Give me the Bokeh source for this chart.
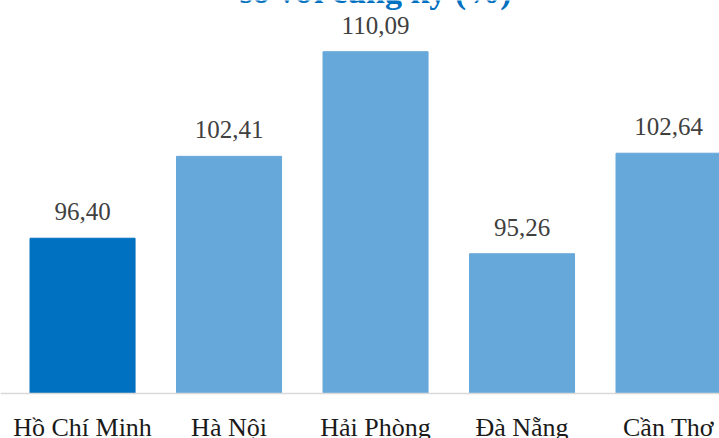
from bokeh.plotting import figure
from bokeh.models import ColumnDataSource, Range1d, LabelSet, Label, Span
from bokeh.embed import file_html
from bokeh.resources import INLINE

# ---- data ----
cities = ["Hồ Chí Minh", "Hà Nội", "Hải Phòng", "Đà Nẵng", "Cần Thơ"]
values = [96.40, 102.41, 110.09, 95.26, 102.64]
value_labels = ["96,40", "102,41", "110,09", "95,26", "102,64"]
bar_colors = ["#0070C0", "#66A8DA", "#66A8DA", "#66A8DA", "#66A8DA"]
title_text = "so với cùng kỳ (%)"
y_base = 85

xs = list(range(len(cities)))
src = ColumnDataSource(dict(x=xs, top=values, lab=value_labels, color=bar_colors,
                            city=cities, base=[y_base] * len(cities)))

p = figure(width=719, height=438, output_backend="svg", toolbar_location=None,
           x_range=Range1d(-0.56, 4.348), y_range=Range1d(81.697, 113.85),
           x_axis_location=None, y_axis_location=None,
           min_border_left=0, min_border_right=0, min_border_top=0, min_border_bottom=0)
p.outline_line_color = None
p.background_fill_color = "white"
p.border_fill_color = "white"
p.grid.visible = False

p.vbar(x="x", top="top", bottom=y_base, width=0.717, color="color", source=src)

# category axis line
p.add_layout(Span(location=y_base, dimension="width", line_color="#D9D9D9", line_width=1.5))

labels = LabelSet(x="x", y="top", text="lab", source=src, y_offset=18,
                  text_align="center", text_baseline="alphabetic",
                  text_font="Liberation Serif", text_font_size="25px", text_color="#404040")
p.add_layout(labels)

cat_labels = LabelSet(x="x", y="base", text="city", source=src, y_offset=-42,
                      text_align="center", text_baseline="alphabetic",
                      text_font="Liberation Serif", text_font_size="26px", text_color="#1a1a1a")
p.add_layout(cat_labels)

title = Label(x=2, y=113.48, y_offset=14, text=title_text, text_align="center",
              text_baseline="alphabetic",
              text_font="Liberation Serif", text_font_style="bold", text_font_size="34px",
              text_color="#0070C0")
p.add_layout(title)

open("out.html", "w").write(file_html(p, INLINE))
